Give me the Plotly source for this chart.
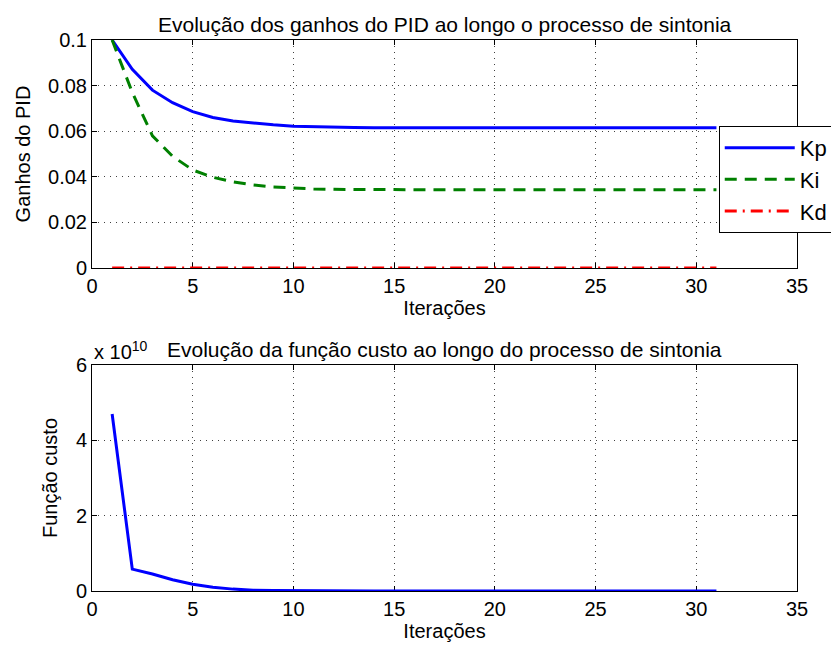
import plotly.graph_objects as go
from plotly.subplots import make_subplots

iteracoes = list(range(1, 32))
kp = [0.1, 0.0871, 0.078, 0.0725, 0.0686, 0.066, 0.0645, 0.0635, 0.0628, 0.0622,
      0.0619, 0.0617, 0.0616, 0.0615, 0.0615, 0.0615, 0.0615, 0.0615, 0.0615, 0.0615,
      0.0615, 0.0615, 0.0615, 0.0615, 0.0615, 0.0615, 0.0615, 0.0615, 0.0615, 0.0615, 0.0615]
ki = [0.1, 0.077, 0.058, 0.049, 0.043, 0.0398, 0.0378, 0.0364, 0.0355, 0.035,
      0.0347, 0.0345, 0.0344, 0.0343, 0.0343, 0.0343, 0.0343, 0.0343, 0.0343, 0.0343,
      0.0343, 0.0343, 0.0343, 0.0343, 0.0343, 0.0343, 0.0343, 0.0343, 0.0343, 0.0343, 0.0343]
kd = [0.0] * 31
custo = [4.7e10, 0.58e10, 0.45e10, 0.3e10, 0.18e10, 0.1e10, 0.05e10, 0.02e10, 0.01e10, 0.005e10,
         0.002e10, 0.001e10] + [0.0] * 19
escala = 1e10

x_ticks = [0, 5, 10, 15, 20, 25, 30, 35]
y1_ticks = [0, 0.02, 0.04, 0.06, 0.08, 0.1]
y1_labels = ["0", "0.02", "0.04", "0.06", "0.08", "0.1"]
y2_ticks = [0, 2, 4, 6]

FONT = "Liberation Sans, Arial, sans-serif"
FS = 20

fig = make_subplots(rows=2, cols=1)

fig.add_trace(go.Scatter(x=iteracoes, y=kp, mode="lines", name="Kp",
                         line=dict(color="rgb(0,0,255)", width=3)), row=1, col=1)
fig.add_trace(go.Scatter(x=iteracoes, y=ki, mode="lines", name="Ki",
                         line=dict(color="rgb(0,128,0)", width=3, dash="12px,8px")), row=1, col=1)
fig.add_trace(go.Scatter(x=iteracoes, y=kd, mode="lines", name="Kd",
                         line=dict(color="rgb(255,0,0)", width=3, dash="12px,6px,2px,6px")), row=1, col=1)
fig.add_trace(go.Scatter(x=iteracoes, y=[c / escala for c in custo], mode="lines",
                         showlegend=False,
                         line=dict(color="rgb(0,0,255)", width=3)), row=2, col=1)

axis_common = dict(showline=True, linecolor="black", linewidth=1, mirror="ticks",
                   ticks="inside", ticklen=5, tickcolor="black",
                   showgrid=True, gridcolor="rgba(0,0,0,0.75)", griddash="1px,5px", gridwidth=1,
                   zeroline=False, layer="below traces",
                   tickfont=dict(size=FS, color="black", family=FONT))

fig.update_xaxes(range=[0, 35], tickvals=x_ticks, **axis_common)
fig.update_xaxes(domain=[0, 1])
fig.update_yaxes(range=[0, 0.1], tickvals=y1_ticks, ticktext=y1_labels, row=1, col=1, **axis_common)
fig.update_yaxes(range=[0, 6], tickvals=y2_ticks, row=2, col=1, **axis_common)
fig.update_yaxes(domain=[0.5862, 1], row=1, col=1)
fig.update_yaxes(domain=[0, 0.4102], row=2, col=1)

tf = dict(size=FS, color="black", family=FONT)
ttf = dict(size=21, color="black", family=FONT)
fig.update_xaxes(title=dict(text="Iterações", font=tf, standoff=2), row=1, col=1)
fig.update_xaxes(title=dict(text="Iterações", font=tf, standoff=2), row=2, col=1)
fig.update_yaxes(title=dict(text="Ganhos do PID", font=tf, standoff=12), row=1, col=1)
fig.update_yaxes(title=dict(text="Função custo", font=tf, standoff=12), row=2, col=1)

fig.add_annotation(text="Evolução dos ganhos do PID ao longo o processo de sintonia",
                   xref="paper", yref="paper", x=0.5, y=1, yshift=2, xanchor="center",
                   yanchor="bottom", showarrow=False, font=ttf)
fig.add_annotation(text="Evolução da função custo ao longo do processo de sintonia",
                   xref="paper", yref="paper", x=0.5, y=0.4102, yshift=2, xanchor="center",
                   yanchor="bottom", showarrow=False, font=ttf)
fig.add_annotation(text="x 10<sup>10</sup>", xref="paper", yref="paper", x=0, y=0.4102,
                   yshift=0, xanchor="left", yanchor="bottom", showarrow=False, font=tf)

fig.update_layout(
    width=839, height=652,
    margin=dict(l=84, r=50, t=32, b=69),
    paper_bgcolor="white", plot_bgcolor="white",
    font=dict(family=FONT, color="black"),
    legend=dict(x=0.889, y=0.844, xanchor="left", yanchor="top",
                bgcolor="white", bordercolor="black", borderwidth=1,
                font=dict(size=22, color="black", family=FONT),
                itemwidth=70, tracegroupgap=6),
)

fig.write_html("out.html")
